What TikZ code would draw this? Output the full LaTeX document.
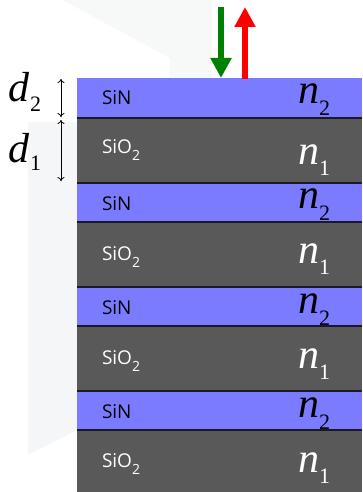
\documentclass[tikz,border=0pt]{standalone}
\usepackage{fontspec}
\setmainfont{Liberation Serif}
\newfontfamily\sansf{Open Sans}
\usetikzlibrary{arrows.meta}
\definecolor{sinc}{RGB}{123,123,255}
\definecolor{sioc}{RGB}{89,89,89}
\definecolor{edgec}{RGB}{25,25,40}
\definecolor{wmA}{RGB}{246,249,247}
\definecolor{wmB}{RGB}{245,246,248}
\definecolor{arrG}{RGB}{0,128,0}
\definecolor{arrR}{RGB}{255,0,0}
\newcommand{\idx}[3]{{\fontsize{42}{42}\selectfont\itshape #1}\raisebox{-#3}{\fontsize{22}{22}\selectfont #2}}
\newcommand{\sinlbl}{{\sansf\fontsize{19}{19}\selectfont SiN}}
\newcommand{\siolbl}{{\sansf\fontsize{19}{19}\selectfont SiO\raisebox{-7pt}{\fontsize{14}{14}\selectfont 2}}}
\tikzset{
  lbl/.style={anchor=base west, inner sep=0pt, outer sep=0pt},
  dimarrow/.style={{To[length=4pt,width=7pt]}-{To[length=4pt,width=7pt]}, line width=0.8pt, black},
  beam/.style={line width=6pt, -{Triangle[length=20pt,width=20pt]}},
  boundary/.style={line width=1.6pt, edgec},
}
\begin{document}
\begin{tikzpicture}[x=1pt,y=-1pt]
\useasboundingbox (0,0) rectangle (362,492);
% faint watermark
\fill[wmA] (62,0) -- (212,0) -- (212,78) -- (170,78) -- (170,58) -- cycle;
\fill[wmB] (28,122) -- (77,122) -- (77,430) -- (28,455) -- cycle;
% layers
\fill[sinc] (77,78) rectangle (362,118);
\fill[sioc] (77,118) rectangle (362,183);
\fill[sinc] (77,183) rectangle (362,222);
\fill[sioc] (77,222) rectangle (362,287);
\fill[sinc] (77,287) rectangle (362,326);
\fill[sioc] (77,326) rectangle (362,391);
\fill[sinc] (77,391) rectangle (362,430);
\fill[sioc] (77,430) rectangle (362,492);
\foreach \yy in {118,183,222,287,326,391,430} \draw[boundary] (77,\yy) -- (362,\yy);
% material labels
\node[lbl] (m1) at (102,105) {\sinlbl};
\node[lbl,white] (m2) at (102,153) {\siolbl};
\node[lbl] (m3) at (102,210) {\sinlbl};
\node[lbl,white] (m4) at (102,260) {\siolbl};
\node[lbl] (m5) at (102,314) {\sinlbl};
\node[lbl,white] (m6) at (102,364) {\siolbl};
\node[lbl] (m7) at (102,418) {\sinlbl};
\node[lbl,white] (m8) at (102,467) {\siolbl};
% refractive indices
\node[lbl] (n1) at (298,104) {\idx{n}{2}{12pt}};
\node[lbl,white] (n2) at (298,164) {\idx{n}{1}{11pt}};
\node[lbl] (n3) at (298,208) {\idx{n}{2}{12pt}};
\node[lbl,white] (n4) at (298,263) {\idx{n}{1}{11pt}};
\node[lbl] (n5) at (298,313) {\idx{n}{2}{12pt}};
\node[lbl,white] (n6) at (298,368) {\idx{n}{1}{11pt}};
\node[lbl] (n7) at (298,417) {\idx{n}{2}{12pt}};
\node[lbl,white] (n8) at (298,472) {\idx{n}{1}{11pt}};
% thickness labels
\node[lbl] (d2) at (9,102) {\idx{d}{2}{10pt}};
\node[lbl] (d1) at (9,162) {\idx{d}{1}{8pt}};
\coordinate (a2t) at (61,79);
\coordinate (a2b) at (61,117);
\coordinate (a1t) at (61,120);
\coordinate (a1b) at (61,181);
\draw[dimarrow] (a2t) -- (a2b);
\draw[dimarrow] (a1t) -- (a1b);
% incident and reflected beams
\coordinate (gs) at (221,7);
\coordinate (ge) at (221,78);
\coordinate (rs) at (245,79);
\coordinate (re) at (245,7);
\draw[beam, arrG] (gs) -- (ge);
\draw[beam, arrR] (rs) -- (re);
\end{tikzpicture}
\end{document}
